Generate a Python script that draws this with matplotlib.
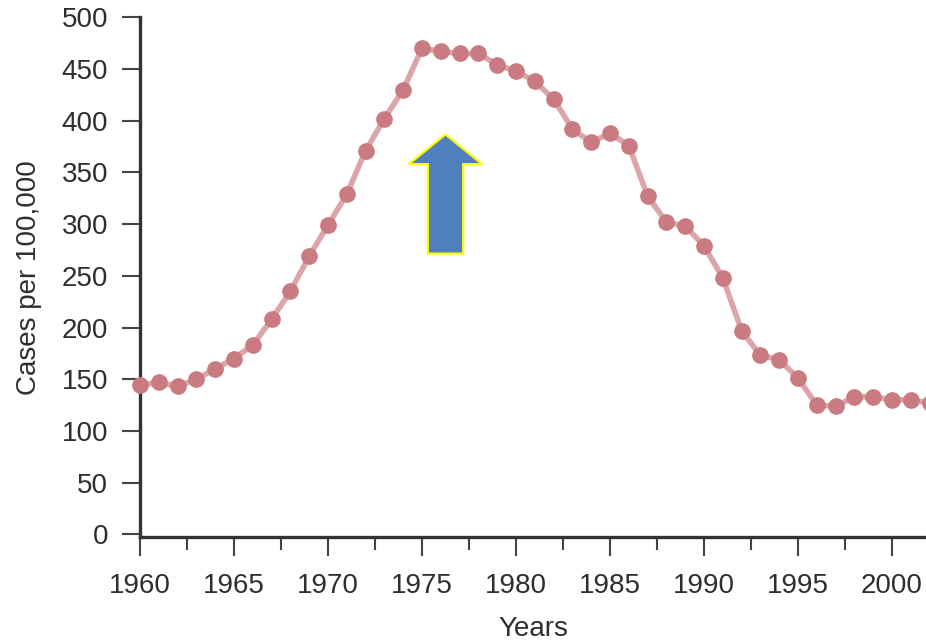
import matplotlib
matplotlib.use("Agg")
import matplotlib.pyplot as plt
from matplotlib.patches import FancyArrow

# Cases per 100,000 by year
years = list(range(1960, 2003))
cases = [144, 147, 143, 150, 160, 170, 183, 208, 235, 269,
         299, 329, 371, 402, 430, 470, 467, 465, 465, 454,
         448, 438, 421, 392, 379, 388, 376, 327, 302, 298,
         279, 248, 197, 173, 169, 151, 125, 124, 133, 133,
         130, 130, 127]

y_ticks = list(range(0, 501, 50))
x_major = list(range(1960, 2001, 5))
x_minor = [y + 2.5 for y in range(1960, 2000, 5)]

plt.rcParams['font.family'] = ['Liberation Sans', 'DejaVu Sans']
text_color = '#2e2e2e'
axis_color = '#333333'

fig = plt.figure(figsize=(9.26, 6.44), dpi=100)
ax = fig.add_axes([140 / 926, 1 - 537 / 644, 1 - 140 / 926, (537 - 17.3) / 644])

ax.plot(years, cases, color='#dca6a9', linewidth=4.0, zorder=2,
        solid_capstyle='round', clip_on=False)
ax.plot(years, cases, linestyle='none', marker='o', markersize=11,
        markerfacecolor='#c97b81', markeredgecolor='#c97b81', zorder=3,
        clip_on=False)

# block arrow pointing at the peak years
arrow = FancyArrow(1976.25, 271.5, 0, 115.2, width=1.88, head_width=3.9,
                   head_length=28.7, length_includes_head=True,
                   facecolor='#4f7fbc', edgecolor='#ffff00', linewidth=1.6,
                   zorder=4)
ax.add_patch(arrow)

ax.set_xlim(1960, 1960 + (926 - 140) / 18.8)
ax.set_ylim(-2.6, 500)

ax.set_yticks(y_ticks)
ax.set_xticks(x_major)
ax.set_xticks(x_minor, minor=True)

for side in ['top', 'right']:
    ax.spines[side].set_visible(False)
for side in ['left', 'bottom']:
    ax.spines[side].set_color(axis_color)
    ax.spines[side].set_linewidth(2.4)

ax.tick_params(axis='y', which='major', direction='out', length=13,
               width=1.5, color='#444444', labelsize=20, pad=10,
               labelcolor=text_color)
ax.tick_params(axis='x', which='major', direction='out', length=14,
               width=1.5, color='#444444', labelsize=20, pad=12,
               labelcolor=text_color)
ax.tick_params(axis='x', which='minor', direction='out', length=9,
               width=1.5, color='#444444')

ax.set_xlabel('Years', fontsize=20, color=text_color, labelpad=12)
ax.set_ylabel('Cases per 100,000', fontsize=20, color=text_color, labelpad=14)

fig.savefig('out.png', dpi=100)
